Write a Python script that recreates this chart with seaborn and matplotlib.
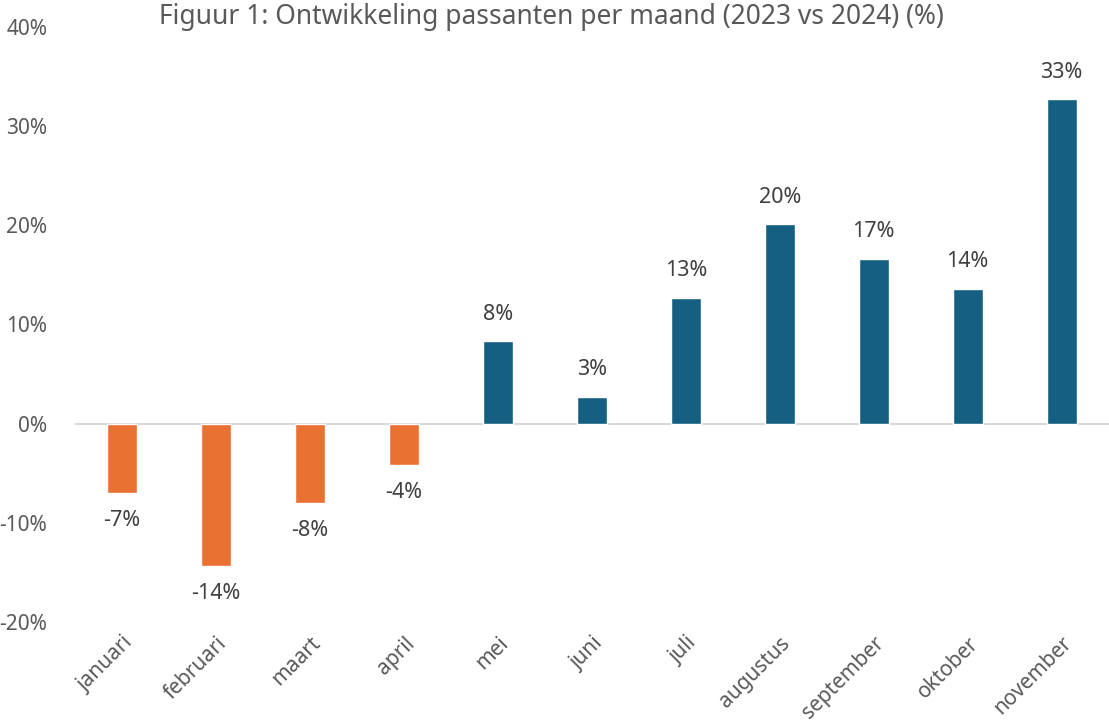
import pandas as pd
import numpy as np
import seaborn as sns
import matplotlib.pyplot as plt
from matplotlib.ticker import FuncFormatter

# Data
maanden = ['januari', 'februari', 'maart', 'april', 'mei', 'juni', 'juli',
           'augustus', 'september', 'oktober', 'november']
ontwikkeling = [-7.0, -14.4, -8.0, -4.2, 8.3, 2.7, 12.7, 20.1, 16.6, 13.6, 32.7]
labels = ['-7%', '-14%', '-8%', '-4%', '8%', '3%', '13%', '20%', '17%', '14%', '33%']

df = pd.DataFrame({'maand': maanden, 'waarde': ontwikkeling})
df['groep'] = np.where(df['waarde'] < 0, 'neg', 'pos')

sns.set_style('white')
plt.rcParams['font.family'] = ['Noto Sans', 'DejaVu Sans']

fig = plt.figure(figsize=(11.09, 7.26), dpi=100)
ax = fig.add_axes([0.0676, 0.1433, 0.932, 0.8196])

sns.barplot(data=df, x='maand', y='waarde', hue='groep',
            palette={'neg': '#E97132', 'pos': '#156082'}, saturation=1,
            dodge=False, width=0.32, legend=False, ax=ax)

ax.set_ylim(-20, 40)
ax.set_xlim(-0.5, len(maanden) - 0.5)
ax.set_yticks(range(-20, 41, 10))
ax.yaxis.set_major_formatter(FuncFormatter(lambda v, p: f'{v:.0f}%'))
ax.axhline(0, color='#D9D9D9', lw=1.5, zorder=0)

for s in ax.spines.values():
    s.set_visible(False)
ax.tick_params(axis='both', length=0, labelsize=15, colors='#595959')
ax.tick_params(axis='y', pad=20)
ax.set_xlabel('')
ax.set_ylabel('')
plt.setp(ax.get_xticklabels(), rotation=45, ha='right', va='top',
         rotation_mode='anchor')
for t in ax.get_xticklabels():
    t.set_y(-0.01)

# data labels
for i, (v, lab) in enumerate(zip(ontwikkeling, labels)):
    off = 12 if v >= 0 else -12
    ax.annotate(lab, (i, v), xytext=(0, off), textcoords='offset points',
                ha='center', va='bottom' if v >= 0 else 'top',
                fontsize=15.5, color='#404040')

fig.text(0.497, 0.977, 'Figuur 1: Ontwikkeling passanten per maand (2023 vs 2024) (%)',
         ha='center', va='center', fontsize=19, color='#595959')

fig.savefig('out.png', dpi=100)
